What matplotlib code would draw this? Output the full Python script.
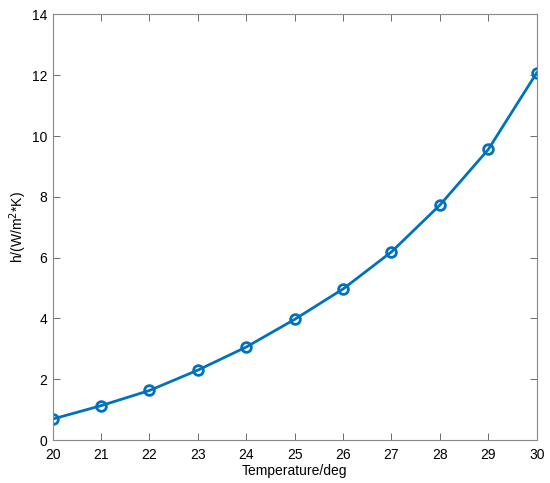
import matplotlib
matplotlib.use("Agg")
import matplotlib.pyplot as plt

temperature = [20, 21, 22, 23, 24, 25, 26, 27, 28, 29, 30]
h_values = [0.69, 1.13, 1.63, 2.30, 3.06, 3.97, 4.97, 6.19, 7.73, 9.56, 12.08]
x_ticks = [20, 21, 22, 23, 24, 25, 26, 27, 28, 29, 30]
y_ticks = [0, 2, 4, 6, 8, 10, 12, 14]

plt.rcParams['font.family'] = ['Liberation Sans', 'DejaVu Sans']

fig = plt.figure(figsize=(5.5, 4.83), dpi=100)
ax = fig.add_axes([0.0958, 0.089, 0.88, 0.881])
ax.plot(temperature, h_values, color='#0072BD', linewidth=2,
        marker='o', markersize=7, markerfacecolor='none',
        markeredgewidth=2, markeredgecolor='#0072BD')
ax.set_xlim(20, 30)
ax.set_ylim(0, 14)
ax.set_xticks(x_ticks)
ax.set_yticks(y_ticks)
ax.tick_params(direction='in', top=True, right=True, labelsize=10,
               color='#555555', length=5, width=0.6)
ax.tick_params(axis='x', pad=6)
ax.tick_params(axis='y', pad=4)
for s in ax.spines.values():
    s.set_color('#888888')
    s.set_linewidth(0.8)
ax.set_xlabel('Temperature/deg', fontsize=10, labelpad=1)
ax.set_ylabel('h/(W/m$^{2}$*K)', fontsize=10, labelpad=2)
fig.savefig('out.png', dpi=100)
